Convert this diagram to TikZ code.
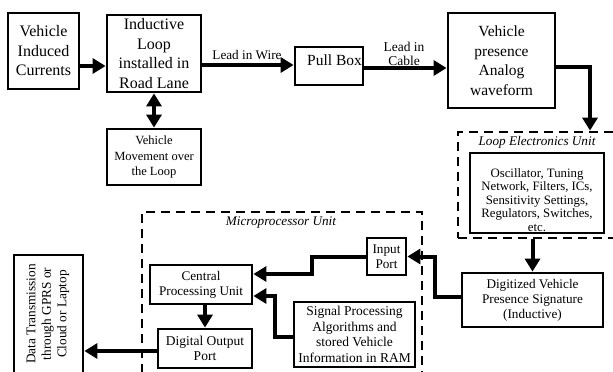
\documentclass[tikz,border=0pt]{standalone}
\usepackage{fontspec}
\setmainfont{Liberation Serif}
\usetikzlibrary{arrows.meta}
\newcommand\szA{\fontsize{16}{19.5}\selectfont}
\newcommand\szB{\fontsize{15.5}{19.5}\selectfont}
\newcommand\szC{\fontsize{13.2}{15}\selectfont}
\newcommand\szD{\fontsize{12.8}{13.4}\selectfont}
\newcommand\szE{\fontsize{12.5}{15.5}\selectfont}
\begin{document}
\begin{tikzpicture}[x=1pt,y=-1pt,
  box/.style={draw, line width=2.8pt, align=center, inner sep=0pt},
  dashbox/.style={draw, line width=2.8pt, dash pattern=on 9pt off 6pt, inner sep=0pt},
  arr/.style={line width=4pt, line join=miter, -{Triangle[length=13pt,width=15pt]}},
  lbl/.style={font=\szC, align=center, inner sep=0pt}]
\useasboundingbox (0,0) rectangle (613,372);
\fill[white] (0,0) rectangle (613,372);

% dashed unit boxes
\node[dashbox, minimum width=167pt, minimum height=106pt] (leu) at (541.5,185) {};
\node[lbl, font=\itshape\szC] (leut) at (537,142) {Loop Electronics Unit};
\node[dashbox, minimum width=280pt, minimum height=188pt] (mpu) at (282,306) {};
\node[lbl, font=\itshape\szC] (mput) at (281,223) {Microprocessor Unit};

% boxes
\node[box, font=\szA, minimum width=71pt, minimum height=76pt] (vic) at (43.5,51) {Vehicle\\Induced\\Currents};
\node[box, font=\szA, minimum width=94pt, minimum height=77pt] (loop) at (154,53.5) {Inductive\\Loop\\installed in\\Road Lane};
\node[box, font=\szE, minimum width=94pt, minimum height=56pt] (move) at (154,157) {Vehicle\\Movement over\\the Loop};
\node[box, minimum width=68pt, minimum height=38pt] (pull) at (329,66) {};
\node[font=\szB, inner sep=0pt] (pullt) at (334.5,60) {Pull Box};
\node[box, font=\szB, minimum width=107pt, minimum height=95pt] (analog) at (501.5,60.5) {Vehicle\\presence\\Analog\\waveform};
\node[box, minimum width=134pt, minimum height=80pt] (osc) at (537,193) {};
\node[font=\szD, align=center, inner sep=0pt] (osct) at (537,200) {Oscillator, Tuning\\Network, Filters, ICs,\\Sensitivity Settings,\\Regulators, Switches,\\etc.};
\node[box, font=\szC, minimum width=141pt, minimum height=54pt] (dig) at (532.5,300) {Digitized Vehicle\\Presence Signature\\(Inductive)};
\node[box, font=\szC, minimum width=39pt, minimum height=37pt] (inport) at (386.5,256.5) {Input\\Port};
\node[box, font=\szC, minimum width=102pt, minimum height=39pt] (cpu) at (201,284.5) {Central\\Processing Unit};
\node[box, font=\fontsize{13.5}{15.5}\selectfont, minimum width=121pt, minimum height=65pt] (sig) at (354.5,334.5) {Signal Processing\\Algorithms and\\stored Vehicle\\Information in RAM};
\node[box, font=\fontsize{13.5}{15.5}\selectfont, minimum width=94pt, minimum height=39pt] (dop) at (205,348.5) {Digital Output\\Port};
\node[box, minimum width=69pt, minimum height=135pt] (data) at (48.5,322.5) {};
\node[rotate=90, font=\fontsize{13.3}{15.5}\selectfont, align=center, inner sep=0pt] (datat) at (48,314) {Data Transmission\\through GPRS or\\Cloud or Laptop};

% connectors
\coordinate (a1) at (0,66);
\draw[arr] (vic.east |- a1) -- (loop.west |- a1);
\draw[line width=4pt, {Triangle[length=13pt,width=15pt]}-{Triangle[length=13pt,width=15pt]}] (loop.south) -- (move.north);
\coordinate (a2) at (0,65);
\draw[arr] (loop.east |- a2) -- (pull.west |- a2);
\node[lbl] (lw) at (247,55) {Lead in Wire};
\coordinate (a3) at (0,68);
\draw[arr] (pull.east |- a3) -- (analog.west |- a3);
\node[lbl, font=\fontsize{13.5}{14}\selectfont] (lc) at (404,54) {Lead in\\Cable};
\coordinate (b1) at (590,67);
\draw[arr] (analog.east |- b1) -- (b1) -- (b1 |- leu.north);
\draw[arr] (dig.north |- leu.south) -- (dig.north);
\coordinate (b3) at (435,297);
\draw[arr] (dig.west |- b3) -- (b3) |- (inport.east);
\coordinate (b4) at (312,274);
\draw[arr] (inport.west) -| (b4) -- (cpu.east |- b4);
\coordinate (b5) at (275,296);
\coordinate (b6) at (0,337);
\draw[arr] (sig.west |- b6) -| (b5) -- (cpu.east |- b5);
\draw[arr] (cpu.south -| dop.north) -- (dop.north);
\coordinate (b7) at (0,351);
\draw[arr] (dop.west |- b7) -- (data.east |- b7);
\end{tikzpicture}
\end{document}
